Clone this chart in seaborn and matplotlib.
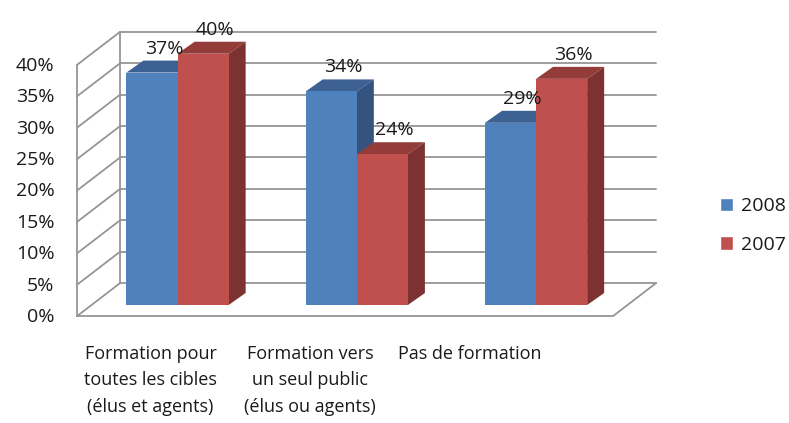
import pandas as pd
import matplotlib
matplotlib.use("Agg")
import matplotlib.pyplot as plt
from matplotlib.patches import Polygon, Patch
from matplotlib.transforms import IdentityTransform
import seaborn as sns

# ---- données ----
categories = ["Formation pour\ntoutes les cibles\n(élus et agents)",
              "Formation vers\nun seul public\n(élus ou agents)",
              "Pas de formation"]
annees = ["2008", "2007"]
valeurs_2008 = [0.37, 0.34, 0.29]
valeurs_2007 = [0.40, 0.24, 0.36]
graduations = [0, 0.05, 0.10, 0.15, 0.20, 0.25, 0.30, 0.35, 0.40]

df = pd.DataFrame({
    "categorie": categories * 2,
    "annee": ["2008"] * 3 + ["2007"] * 3,
    "valeur": valeurs_2008 + valeurs_2007,
})

couleurs = {"2008": "#4F81BD", "2007": "#C0504D"}
dessus = {"2008": "#3C6192", "2007": "#943C3A"}
cote = {"2008": "#34537E", "2007": "#7B3230"}
gris = "#959595"
texte = "#1a1a1a"

sns.set_theme(style="white")
plt.rcParams["font.family"] = ["Open Sans", "DejaVu Sans"]

fig = plt.figure(figsize=(7.89, 4.23), dpi=100)
ax = fig.add_axes([0.116, 0.279, 0.6793, 0.594])

sns.barplot(data=df, x="categorie", y="valeur", hue="annee", hue_order=annees,
            palette=couleurs, width=0.57, saturation=1, errorbar=None,
            legend=False, ax=ax, zorder=3, edgecolor="none", linewidth=0)
ax.set_xlim(-0.48, 2.51)
ax.set_ylim(0, 0.40)
ax.set_autoscale_on(False)
ax.axis("off")

# décalages en pixels (plan avant / plan arrière / profondeur des barres)
AV = (-14.3, -11)
AR = (28.7, 22)
PROF = (17, 12)


def px(x, y, off):
    p = ax.transData.transform((x, y))
    return p[0] + off[0], p[1] + off[1]


def ligne(p1, p2):
    ax.plot([p1[0], p2[0]], [p1[1], p2[1]], transform=IdentityTransform(),
            clip_on=False, color=gris, lw=1.3, zorder=0.5)


x0, x1 = ax.get_xlim()
for g in graduations:
    ligne(px(x0, g, AR), px(x1, g, AR))
    ligne(px(x0, g, AV), px(x0, g, AR))
ligne(px(x0, 0, AV), px(x0, 0.40, AV))
ligne(px(x0, 0, AR), px(x0, 0.40, AR))
ligne(px(x0, 0, AV), px(x1, 0, AV))
ligne(px(x1, 0, AV), px(x1, 0, AR))

# faces 3D des barres + étiquettes
bars = [p for p in ax.patches if p.get_height() > 0]
for i, b in enumerate(bars):
    an = annees[i // 3]
    bx, by, bw, bh = b.get_x(), b.get_y(), b.get_width(), b.get_height()
    b.set_zorder(3)
    bl = px(bx, by + bh, (0, 0))
    br = px(bx + bw, by + bh, (0, 0))
    r0 = px(bx + bw, by, (0, 0))
    top = [bl, br, (br[0] + PROF[0], br[1] + PROF[1]), (bl[0] + PROF[0], bl[1] + PROF[1])]
    side = [r0, br, (br[0] + PROF[0], br[1] + PROF[1]), (r0[0] + PROF[0], r0[1] + PROF[1])]
    for poly, c in ((top, dessus[an]), (side, cote[an])):
        ax.add_patch(Polygon(poly, closed=True, facecolor=c, edgecolor="none",
                             transform=IdentityTransform(), clip_on=False, zorder=2))
    ax.annotate(f"{bh:.0%}", (bx + bw / 2, bh), xytext=(12, 19),
                textcoords="offset pixels", ha="center", va="baseline",
                fontsize=14, color=texte, annotation_clip=False)

# graduations de l'axe vertical
for g in graduations:
    ax.annotate(f"{g:.0%}", (x0, g), xytext=(-37, -12), textcoords="offset pixels",
                ha="right", va="center", fontsize=14, color=texte,
                annotation_clip=False)

# libellés des catégories
for i, c in enumerate(categories):
    ax.annotate(c, (i, 0), xytext=(-27 - 19.5 * i, -40), textcoords="offset pixels",
                ha="center", va="top", fontsize=13, color=texte,
                linespacing=1.6, annotation_clip=False)

poignees = [Patch(facecolor=couleurs[a], label=a) for a in annees]
fig.legend(handles=poignees, loc="center left", bbox_to_anchor=(0.9125, 0.467),
           frameon=False, fontsize=14, handlelength=0.68, handleheight=0.68,
           handletextpad=0.4, labelspacing=1.05, borderpad=0, borderaxespad=0)
for t in fig.legends[0].get_texts():
    t.set_color(texte)

fig.savefig("out.png", dpi=100)
